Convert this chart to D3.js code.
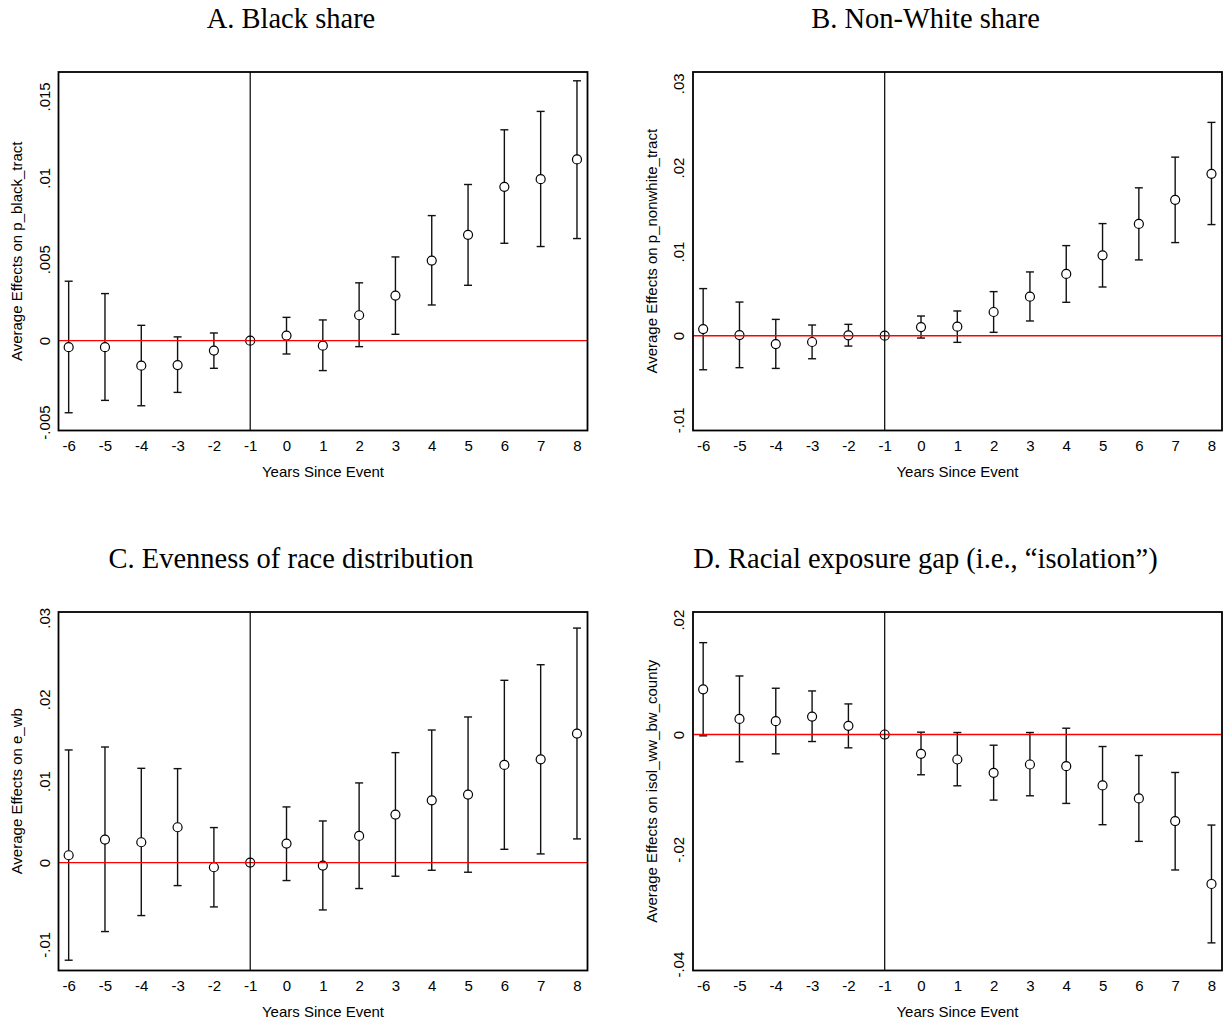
<!DOCTYPE html>
<html>
<head>
<meta charset="utf-8">
<script src="https://cdn.jsdelivr.net/npm/d3@7"></script>
<style>
  body { margin: 0; background: #fff; }
  svg { display: block; }
  .tick text { font-family: "Liberation Sans", Arial, sans-serif; font-size: 15px; fill: #000; }
  .ytitle, .xtitle { font-family: "Liberation Sans", Arial, sans-serif; font-size: 15px; fill: #000; }
  .ptitle { font-family: "Liberation Serif", "Times New Roman", serif; font-size: 28.5px; fill: #000; }
</style>
</head>
<body>
<svg id="chart" width="1225" height="1026"></svg>
<script>
// event time
var years = [-6, -5, -4, -3, -2, -1, 0, 1, 2, 3, 4, 5, 6, 7, 8];

// A. Black share
var blackEst = [-0.0004, -0.0004, -0.00154, -0.0015, -0.00061, 0, 0.00031, -0.00031, 0.00156, 0.00277, 0.00492, 0.0065, 0.00945, 0.00992, 0.01113];
var blackLo  = [-0.00443, -0.00367, -0.0040, -0.00318, -0.0017, null, -0.00082, -0.00184, -0.00037, 0.00039, 0.00219, 0.0034, 0.00598, 0.00578, 0.00627];
var blackHi  = [0.00365, 0.00289, 0.00094, 0.00023, 0.00047, null, 0.00143, 0.00127, 0.00355, 0.00514, 0.00768, 0.00959, 0.01295, 0.01408, 0.01596];

// B. Non-White share
var nonwhiteEst = [0.00079, 0.00008, -0.00099, -0.00075, 0.00004, 0, 0.00103, 0.00107, 0.00282, 0.00464, 0.00734, 0.00956, 0.01329, 0.01615, 0.01925];
var nonwhiteLo  = [-0.00405, -0.0038, -0.00389, -0.00274, -0.00123, null, -0.00028, -0.00079, 0.0004, 0.00175, 0.00397, 0.00579, 0.00901, 0.01107, 0.01321];
var nonwhiteHi  = [0.0056, 0.0040, 0.00194, 0.00127, 0.00135, null, 0.00234, 0.00294, 0.00524, 0.00758, 0.01071, 0.01333, 0.01758, 0.02123, 0.02536];

// C. Evenness
var evenEst = [0.0009, 0.00282, 0.00249, 0.00433, -0.00057, 0, 0.00233, -0.00037, 0.00327, 0.00588, 0.00763, 0.00833, 0.01196, 0.01265, 0.0158];
var evenLo  = [-0.01196, -0.00845, -0.00649, -0.00282, -0.00543, null, -0.0022, -0.0058, -0.00318, -0.00167, -0.00094, -0.00118, 0.00163, 0.00106, 0.0029];
var evenHi  = [0.0138, 0.01416, 0.01155, 0.01151, 0.00429, null, 0.00682, 0.0051, 0.00976, 0.01347, 0.01624, 0.01784, 0.02233, 0.02424, 0.02873];

// D. Isolation
var isolEst = [0.00788, 0.00272, 0.00232, 0.00313, 0.00151, 0, -0.00336, -0.00435, -0.00667, -0.00522, -0.00551, -0.00887, -0.01113, -0.01507, -0.02603];
var isolLo  = [-0.00023, -0.00475, -0.00336, -0.00122, -0.00232, null, -0.00701, -0.00893, -0.01142, -0.01067, -0.012, -0.01571, -0.01861, -0.02359, -0.03629];
var isolHi  = [0.016, 0.0102, 0.00806, 0.00759, 0.00533, null, 0.00041, 0.00035, -0.00186, 0.00035, 0.0011, -0.00209, -0.00365, -0.00661, -0.01577];

// y ticks
var ticksA = [-0.005, 0, 0.005, 0.01, 0.015];
var labelsA = ["-.005", "0", ".005", ".01", ".015"];
var ticksB = [-0.01, 0, 0.01, 0.02, 0.03];
var labelsB = ["-.01", "0", ".01", ".02", ".03"];
var ticksD = [-0.04, -0.02, 0, 0.02];
var labelsD = ["-.04", "-.02", "0", ".02"];

var panels = [
  { title: "A. Black share", ytitle: "Average Effects on p_black_tract",
    est: blackEst, lo: blackLo, hi: blackHi, ticks: ticksA, labels: labelsA,
    ydom: [-0.00552, 0.0165], left: 58.5, top: 72 },
  { title: "B. Non-White share", ytitle: "Average Effects on p_nonwhite_tract",
    est: nonwhiteEst, lo: nonwhiteLo, hi: nonwhiteHi, ticks: ticksB, labels: labelsB,
    ydom: [-0.01127, 0.03135], left: 693, top: 72 },
  { title: "C. Evenness of race distribution", ytitle: "Average Effects on e_wb",
    est: evenEst, lo: evenLo, hi: evenHi, ticks: ticksB, labels: labelsB,
    ydom: [-0.01322, 0.0307], left: 58.5, top: 612 },
  { title: "D. Racial exposure gap (i.e., \u201Cisolation\u201D)", ytitle: "Average Effects on isol_ww_bw_county",
    est: isolEst, lo: isolLo, hi: isolHi, ticks: ticksD, labels: labelsD,
    ydom: [-0.0411, 0.02134], left: 693, top: 612 }
];

var svg = d3.select("#chart");
var W = 529, H = 358.5;

panels.forEach(function (p) {
  var g = svg.append("g").attr("transform", "translate(" + p.left + "," + p.top + ")");

  var x = d3.scaleLinear().domain([-6.28, 8.29]).range([0, W]);
  var y = d3.scaleLinear().domain(p.ydom).range([H, 0]);

  // title, centred over the whole graph incl. the y axis area
  g.append("text")
    .attr("class", "ptitle")
    .attr("x", 232.5)
    .attr("y", -44.5)
    .attr("text-anchor", "middle")
    .text(p.title);

  // x axis
  var xa = g.append("g")
    .attr("transform", "translate(0," + H + ")")
    .call(d3.axisBottom(x).tickValues(years).tickSize(0).tickFormat(function (d) { return String(d); }));
  xa.select(".domain").remove();
  xa.selectAll(".tick text")
    .attr("y", 14.5).attr("dy", null)
    .attr("dominant-baseline", "central");

  // y axis, rotated labels
  var ya = g.append("g")
    .call(d3.axisLeft(y).tickValues(p.ticks).tickSize(0)
      .tickFormat(function (d, i) { return p.labels[i]; }));
  ya.select(".domain").remove();
  ya.selectAll(".tick text")
    .attr("x", 0).attr("dy", null)
    .attr("y", -14.5)
    .attr("transform", "rotate(-90)")
    .attr("text-anchor", "middle")
    .attr("dominant-baseline", "central");

  g.append("text")
    .attr("class", "xtitle")
    .attr("x", W / 2)
    .attr("y", H + 41)
    .attr("text-anchor", "middle")
    .attr("dominant-baseline", "central")
    .text("Years Since Event");

  g.append("text")
    .attr("class", "ytitle")
    .attr("transform", "translate(-42," + (H / 2) + ") rotate(-90)")
    .attr("text-anchor", "middle")
    .attr("dominant-baseline", "central")
    .text(p.ytitle);

  var rows = years.map(function (yr, i) {
    return { yr: yr, est: p.est[i], lo: p.lo[i], hi: p.hi[i] };
  });
  var bars = rows.filter(function (d) { return d.lo !== null; });

  // error bars
  g.selectAll(".whisk").data(bars).enter().append("line")
    .attr("x1", function (d) { return x(d.yr); })
    .attr("x2", function (d) { return x(d.yr); })
    .attr("y1", function (d) { return y(d.lo); })
    .attr("y2", function (d) { return y(d.hi); })
    .attr("stroke", "#111").attr("stroke-width", 1.4);
  ["lo", "hi"].forEach(function (k) {
    g.selectAll(".cap" + k).data(bars).enter().append("line")
      .attr("x1", function (d) { return x(d.yr) - 4; })
      .attr("x2", function (d) { return x(d.yr) + 4; })
      .attr("y1", function (d) { return y(d[k]); })
      .attr("y2", function (d) { return y(d[k]); })
      .attr("stroke", "#111").attr("stroke-width", 1.4);
  });

  // point estimates
  g.selectAll(".pt").data(rows).enter().append("circle")
    .attr("cx", function (d) { return x(d.yr); })
    .attr("cy", function (d) { return y(d.est); })
    .attr("r", 4.5)
    .attr("fill", "#fff")
    .attr("stroke", "#000").attr("stroke-width", 1.2);

  // reference lines
  g.append("line")
    .attr("x1", 0).attr("x2", W)
    .attr("y1", y(0)).attr("y2", y(0))
    .attr("stroke", "#ff0000").attr("stroke-width", 1.4);
  g.append("line")
    .attr("x1", x(-1)).attr("x2", x(-1))
    .attr("y1", 0).attr("y2", H)
    .attr("stroke", "#000").attr("stroke-width", 1.2);

  // frame
  g.append("rect")
    .attr("x", 0).attr("y", 0).attr("width", W).attr("height", H)
    .attr("fill", "none").attr("stroke", "#000").attr("stroke-width", 1.8);
});
</script>
</body>
</html>
